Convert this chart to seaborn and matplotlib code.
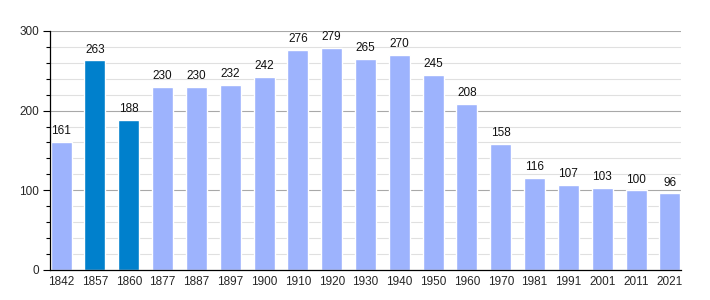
import matplotlib
matplotlib.use("Agg")
import matplotlib.pyplot as plt
import seaborn as sns
import pandas as pd
from matplotlib.ticker import MultipleLocator

years = ["1842", "1857", "1860", "1877", "1887", "1897", "1900", "1910", "1920", "1930",
         "1940", "1950", "1960", "1970", "1981", "1991", "2001", "2011", "2021"]
population = [161, 263, 188, 230, 230, 232, 242, 276, 279, 265,
              270, 245, 208, 158, 116, 107, 103, 100, 96]
highlight = ["1857", "1860"]

light = "#9db3fd"
dark = "#0080cc"
palette = {y: (dark if y in highlight else light) for y in years}

df = pd.DataFrame({"year": years, "pop": population})

sns.set_style("white")
plt.rcParams["font.family"] = ["Liberation Sans", "DejaVu Sans"]

fig = plt.figure(figsize=(7.1, 3.0), dpi=100)
ax = fig.add_axes([50/710, 0.1, 631/710, 0.797])

for v in range(20, 300, 20):
    if v % 100:
        ax.axhline(v, color="#e0e0e0", lw=0.8, zorder=0)
for v in (100, 200, 300):
    ax.axhline(v, color="#a8a8a8", lw=0.8, zorder=0)

sns.barplot(data=df, x="year", y="pop", hue="year", palette=palette,
            legend=False, width=0.62, ax=ax, zorder=2, saturation=1)

for i, v in enumerate(population):
    ax.text(i, v + 6, str(v), ha="center", va="bottom", fontsize=8.5, color="#111111")

ax.set_xlim(-0.33, 18.33)
ax.set_ylim(0, 300)
ax.yaxis.set_major_locator(MultipleLocator(100))
ax.yaxis.set_minor_locator(MultipleLocator(20))
ax.tick_params(axis="y", which="major", length=5, width=0.8, color="black", labelsize=8.5, pad=3, direction="out", left=True)
ax.tick_params(axis="y", which="minor", length=3, width=0.8, color="black", direction="out", left=True)
ax.tick_params(axis="x", length=0, labelsize=8.5, pad=4)
ax.set_xlabel("")
ax.set_ylabel("")
for s in ("top", "right"):
    ax.spines[s].set_visible(False)
ax.spines["left"].set_color("black")
ax.spines["bottom"].set_color("black")
ax.spines["left"].set_linewidth(0.9)
ax.spines["bottom"].set_linewidth(0.9)

fig.savefig("out.png", dpi=100)
